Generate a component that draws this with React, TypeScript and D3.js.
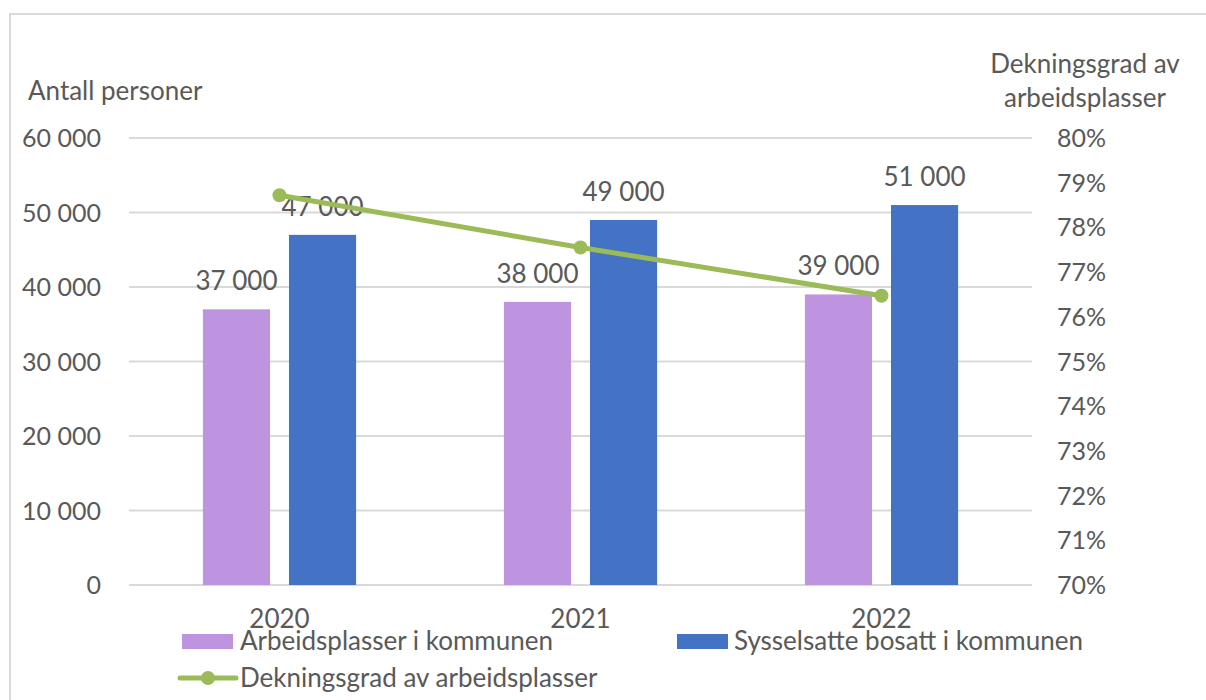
import React from 'react';
import * as d3 from 'd3';

const years = ['2020', '2021', '2022'];
const arbeidsplasser = [37000, 38000, 39000];
const sysselsatte = [47000, 49000, 51000];
const dekningsgrad = [0.7872, 0.7755, 0.7647];
const leftTicks = [0, 10000, 20000, 30000, 40000, 50000, 60000];
const rightTicks = [0.7, 0.71, 0.72, 0.73, 0.74, 0.75, 0.76, 0.77, 0.78, 0.79, 0.8];

const W = 1206;
const H = 700;
const plot = { left: 129, right: 1032, top: 138, bottom: 585 };
const FONT = 'Lato, "Open Sans", sans-serif';
const TXT = '#595959';
const PURPLE = '#BE93E0';
const BLUE = '#4472C4';
const GREEN = '#9BBB59';

const fmt = (v: number) => d3.format(',')(v).replace(/,/g, ' ');

const App = () => {
  const x = d3.scaleBand().domain(years).range([plot.left, plot.right]).padding(0);
  const yL = d3.scaleLinear().domain([0, 60000]).range([plot.bottom, plot.top]);
  const yR = d3.scaleLinear().domain([0.7, 0.8]).range([plot.bottom, plot.top]);
  const step = x.bandwidth();
  const barW = step * 0.223;
  const off = step * 0.143;
  const cx = (y: string) => (x(y) as number) + step / 2;

  const line = d3
    .line<number>()
    .x((_, i) => cx(years[i]))
    .y((d) => yR(d));

  return (
    <svg width={W} height={H} style={{ position: 'absolute', left: 0, top: 0 }}>
      <rect x={0} y={0} width={W} height={H} fill="#fff" />
      <rect x={10} y={14} width={W} height={H} fill="none" stroke="#D9D9D9" strokeWidth={2} />
      <g fontFamily={FONT} fill={TXT} fontSize={26}>
        {leftTicks.map((t) => (
          <g key={t}>
            <line x1={plot.left} x2={plot.right} y1={yL(t)} y2={yL(t)} stroke="#D9D9D9" strokeWidth={2} />
            <text x={101} y={yL(t) + 9} textAnchor="end" fontSize={25}>{fmt(t)}</text>
          </g>
        ))}
        {rightTicks.map((t) => (
          <text key={t} x={1057} y={yR(t) + 9} fontSize={25}>{d3.format('.0%')(t)}</text>
        ))}
        <text x={28} y={100}>Antall personer</text>
        <text x={1085} y={73} textAnchor="middle">Dekningsgrad av</text>
        <text x={1085} y={107} textAnchor="middle">arbeidsplasser</text>

        {years.map((yr, i) => (
          <g key={yr}>
            <rect x={cx(yr) - off - barW / 2} y={yL(arbeidsplasser[i])} width={barW} height={plot.bottom - yL(arbeidsplasser[i])} fill={PURPLE} />
            <rect x={cx(yr) + off - barW / 2} y={yL(sysselsatte[i])} width={barW} height={plot.bottom - yL(sysselsatte[i])} fill={BLUE} />
            <text x={cx(yr) - off} y={yL(arbeidsplasser[i]) - 19} textAnchor="middle">{fmt(arbeidsplasser[i])}</text>
            <text x={cx(yr) + off} y={yL(sysselsatte[i]) - 19} textAnchor="middle">{fmt(sysselsatte[i])}</text>
            <text x={cx(yr)} y={628} textAnchor="middle">{yr}</text>
          </g>
        ))}

        <path d={line(dekningsgrad) as string} fill="none" stroke={GREEN} strokeWidth={5} strokeLinejoin="round" />
        {dekningsgrad.map((d, i) => (
          <circle key={i} cx={cx(years[i])} cy={yR(d)} r={7} fill={GREEN} />
        ))}

        <rect x={182} y={634} width={51} height={15} fill={PURPLE} />
        <text x={240} y={650}>Arbeidsplasser i kommunen</text>
        <rect x={677} y={634} width={51} height={15} fill={BLUE} />
        <text x={734} y={650}>Sysselsatte bosatt i kommunen</text>
        <line x1={180} x2={236} y1={678} y2={678} stroke={GREEN} strokeWidth={5} strokeLinecap="round" />
        <circle cx={208} cy={678} r={7} fill={GREEN} />
        <text x={240} y={687}>Dekningsgrad av arbeidsplasser</text>
      </g>
    </svg>
  );
};

export default App;
